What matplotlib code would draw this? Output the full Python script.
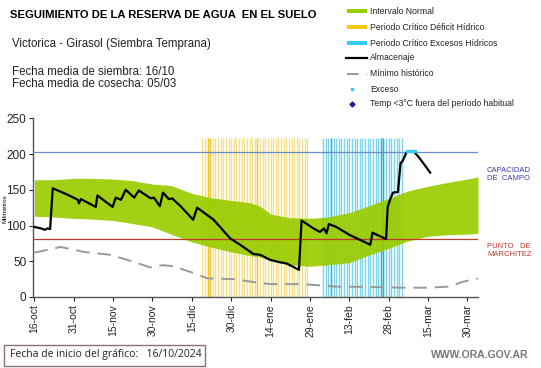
import matplotlib
matplotlib.use("Agg")
import matplotlib.pyplot as plt
from matplotlib.lines import Line2D
from matplotlib.patches import Rectangle

plt.rcParams['font.family'] = ['Liberation Sans', 'DejaVu Sans']

# ---- data ----
tick_days = [0, 15, 30, 45, 60, 75, 90, 105, 120, 135, 150, 165]
tick_labels = ["16-oct", "31-oct", "15-nov", "30-nov", "15-dic", "30-dic",
               "14-ene", "29-ene", "13-feb", "28-feb", "15-mar", "30-mar"]

band_days = [0, 7, 15, 22, 30, 37, 45, 52, 60, 67, 75, 82, 86, 90, 97, 105,
             112, 120, 127, 135, 142, 150, 157, 165, 169]
band_upper = [164, 164, 166, 166, 165, 163, 158, 156, 145, 139, 135, 132, 127,
              116, 111, 110, 112, 118, 127, 138, 148, 155, 160, 165, 168]
band_lower = [113, 112, 110, 109, 107, 103, 98, 88, 77, 70, 63, 58, 56,
              51, 45, 43, 45, 48, 58, 68, 78, 85, 87, 88, 89]

min_days = [0, 5, 10, 19, 29, 38, 44, 49, 53, 59.5, 66, 76, 85, 90, 102,
            115, 128, 140, 150, 158, 163, 169]
min_vals = [62, 66, 70, 63, 59, 49, 41.5, 44.5, 43, 35, 26, 25, 20, 18, 18,
            14.5, 14, 13, 13, 14.5, 21, 26]

alm_days = [0, 2.5, 4, 5, 6, 7, 12.7, 16.5, 17, 17.7, 23.4, 24, 29.8, 31, 33,
            34.8, 38, 39.8, 44.3, 45.5, 47.8, 49, 51.2, 52.5, 55.7, 60.5, 62,
            68.3, 74.6, 78.4, 83.5, 86, 89.8, 93.6, 96, 100.8, 101.8, 106.3,
            108.8, 110.3, 111.3, 112.2, 115, 120, 128, 128.8, 134, 134.6,
            135.5, 136.6, 138.5, 139.5, 140.4, 141.7, 142.5, 144.5, 146.8, 150.8]
alm_vals = [98, 96, 94, 96, 95, 152, 143, 136, 131, 137, 126, 142, 126, 139, 136,
            150, 139, 149, 138, 139, 127, 146, 137, 138, 127, 108, 125,
            108, 82, 73, 60, 59, 52, 48.5, 47, 38, 107, 96,
            91, 96, 89, 102, 98, 87, 73, 90, 81, 126,
            136, 146, 147, 187, 191, 202, 204, 204, 194, 174]

exceso_days = [142, 143, 144, 145]
exceso_vals = [204, 204, 204, 204]

deficit_days = list(range(64, 105))
deficit_strong = [66, 67, 85]
excess_days = list(range(110, 141))
excess_strong = [113, 132, 133]
stripe_top = 222

capacidad = 203
marchitez = 81

# ---- figure ----
fig = plt.figure(figsize=(5.41, 3.68), dpi=100)
ax = fig.add_axes([0.0616, 0.193, 0.8219, 0.4855])

# stripes
ax.vlines(deficit_days, 0, stripe_top, colors='#f2e08c', linewidth=1.0, zorder=1)
ax.vlines(deficit_strong, 0, stripe_top, colors='#efc72a', linewidth=1.0, zorder=1)
ax.vlines(excess_days, 0, stripe_top, colors='#7fd3e6', linewidth=1.0, zorder=1)
ax.vlines(excess_strong, 0, stripe_top, colors='#22b4d6', linewidth=1.0, zorder=1)

# band
ax.fill_between(band_days, band_lower, band_upper, color='#99cc00', alpha=0.92,
                linewidth=0, zorder=2)

# reference lines
ax.axhline(capacidad, color='#6a8cc8', linewidth=0.9, zorder=3)
ax.axhline(marchitez, color='#c0392b', linewidth=0.9, zorder=3)

# minimum historic
ax.plot(min_days, min_vals, color='#999999', linewidth=1.4, dashes=(7, 4), zorder=4)

# almacenaje
ax.plot(alm_days, alm_vals, color='black', linewidth=1.6, zorder=5)
ax.plot(exceso_days, exceso_vals, linestyle='none', marker='s', markersize=2,
        color='#33ccee', zorder=6)

ax.set_xlim(-0.4, 169)
ax.set_ylim(0, 250)
ax.set_yticks([0, 50, 100, 150, 200, 250])
ax.set_xticks(tick_days)
ax.set_xticklabels(tick_labels, rotation=90, fontsize=7.5)
ax.tick_params(axis='y', labelsize=8.5, length=3, width=0.8, colors='#222222', pad=2)
ax.tick_params(axis='x', length=3, width=0.8, colors='#222222', pad=2)
for s in ['top', 'right']:
    ax.spines[s].set_visible(False)
for s in ['left', 'bottom']:
    ax.spines[s].set_color('#555555')
    ax.spines[s].set_linewidth(1.0)
ax.text(-0.063, 0.497, "Milímetros", transform=ax.transAxes, rotation=90,
        fontsize=4.5, ha='center', va='center')

# side labels
fig.text(487/541, 1 - 174/368, "CAPACIDAD\nDE  CAMPO", fontsize=5.5, color='#3a3aa8',
         ha='left', va='center', linespacing=1.2)
fig.text(487/541, 1 - 251/368, "PUNTO   DE\nMARCHITEZ", fontsize=5.5, color='#c0392b',
         ha='left', va='center', linespacing=1.2)

# header texts
fig.text(10/541, 1 - 15/368, "SEGUIMIENTO DE LA RESERVA DE AGUA  EN EL SUELO",
         fontsize=8.1, fontweight='bold', ha='left', va='center')
fig.text(12/541, 1 - 44/368, "Victorica - Girasol (Siembra Temprana)",
         fontsize=8.3, ha='left', va='center', color='#222222')
fig.text(12/541, 1 - 72/368, "Fecha media de siembra: 16/10",
         fontsize=8.3, ha='left', va='center', color='#222222')
fig.text(12/541, 1 - 84/368, "Fecha media de cosecha: 05/03",
         fontsize=8.3, ha='left', va='center', color='#222222')

# legend
lx0, lx1, tx = 347/541, 367/541, 370/541
rows = [11, 27, 43, 58, 74, 89, 104]
labels = ["Intervalo Normal", "Periodo Crítico Déficit Hídrico",
          "Periodo Crítico Excesos Hídricos", "Almacenaje", "Mínimo histórico",
          "Exceso", "Temp <3°C fuera del período habitual"]
for r, lab in zip(rows, labels):
    fig.text(tx, 1 - r/368, lab, fontsize=6.2, ha='left', va='center', color='#222222')
patch_cols = ['#99cc00', '#f5c518', '#33ccee']
for r, c in zip(rows[:3], patch_cols):
    fig.add_artist(Rectangle((lx0, 1 - (r + 2)/368), lx1 - lx0, 4/368,
                             transform=fig.transFigure, color=c, linewidth=0))
fig.add_artist(Line2D([lx0 - 0.002, lx1], [1 - rows[3]/368] * 2, color='black',
                      linewidth=1.6, transform=fig.transFigure))
fig.add_artist(Line2D([lx0, lx1], [1 - rows[4]/368] * 2, color='#999999',
                      linewidth=1.4, dashes=(6, 4), transform=fig.transFigure))
fig.add_artist(Line2D([352/541], [1 - rows[5]/368], marker='s', markersize=2,
                      color='#33ccee', linestyle='none', transform=fig.transFigure))
fig.add_artist(Line2D([352/541], [1 - rows[6]/368], marker='D', markersize=2.5,
                      color='#1a1aa0', linestyle='none', transform=fig.transFigure))

# footer
fig.add_artist(Rectangle((4/541, 1 - 366/368), 201/541, 21/368,
                         transform=fig.transFigure, facecolor='white',
                         edgecolor='#8a7070', linewidth=1.0))
fig.text(10/541, 1 - 355/368, "Fecha de inicio del gráfico:   16/10/2024",
         fontsize=7.5, ha='left', va='center', family=['Open Sans', 'DejaVu Sans'],
         color='#222222')
fig.text(528/541, 1 - 355/368, "WWW.ORA.GOV.AR", fontsize=7.5, ha='right',
         va='center', color='#777777', fontweight='bold')

fig.savefig("out.png", dpi=100)
